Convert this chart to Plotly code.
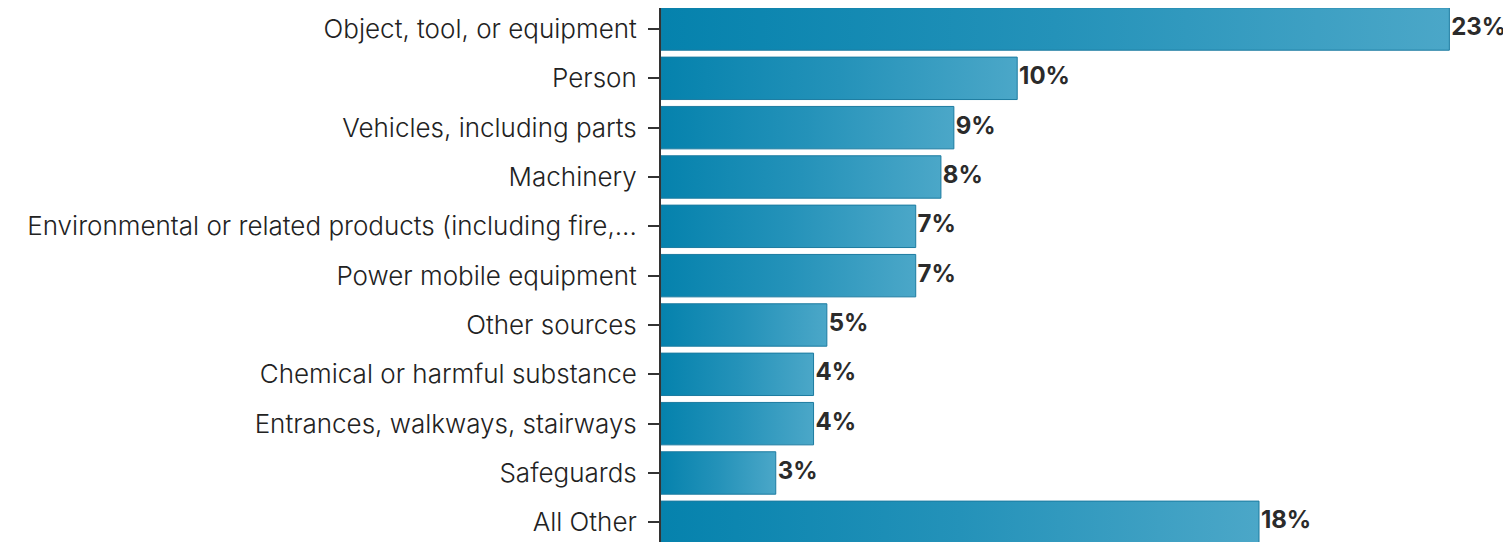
import plotly.graph_objects as go

categories = [
    "Object, tool, or equipment",
    "Person",
    "Vehicles, including parts",
    "Machinery",
    "Environmental or related products (including fire,...",
    "Power mobile equipment",
    "Other sources",
    "Chemical or harmful substance",
    "Entrances, walkways, stairways",
    "Safeguards",
    "All Other",
]
values = [23.15, 10.46, 8.6, 8.22, 7.48, 7.48, 4.87, 4.48, 4.48, 3.37, 17.56]
labels = ["23%", "10%", "9%", "8%", "7%", "7%", "5%", "4%", "4%", "3%", "18%"]

BAR_HALF = 0.43
GRAD = [[0, "#0582ad"], [0.5, "#2492b9"], [1, "#4ba7c8"]]
FONT = "Inter"

fig = go.Figure()
for i, v in enumerate(values):
    fig.add_trace(go.Scatter(
        x=[0, v, v, 0, 0],
        y=[i - BAR_HALF, i - BAR_HALF, i + BAR_HALF, i + BAR_HALF, i - BAR_HALF],
        mode="lines",
        fill="toself",
        fillgradient=dict(type="horizontal", colorscale=GRAD),
        line=dict(color="#1c7ba0", width=1),
        hoverinfo="skip",
        showlegend=False,
    ))

fig.add_trace(go.Scatter(
    x=values,
    y=list(range(len(values))),
    mode="text",
    text=["\u200a" + t for t in labels],
    textposition="middle right",
    textfont=dict(family=FONT, size=24, color="#2b2b2b", weight="bold"),
    cliponaxis=False,
    showlegend=False,
    hoverinfo="skip",
))

fig.update_layout(
    width=1503,
    height=534,
    margin=dict(l=653, r=0, t=0, b=0),
    paper_bgcolor="white",
    plot_bgcolor="white",
    font=dict(family=FONT, size=26, color="#222222"),
)
fig.update_xaxes(range=[0, 24.96], visible=False, fixedrange=True)
fig.update_yaxes(
    range=[10.399, -0.4256],
    tickmode="array",
    tickvals=list(range(len(categories))),
    ticktext=categories,
    showgrid=False,
    zeroline=False,
    showline=True,
    linecolor="#333333",
    linewidth=2,
    ticks="outside",
    ticklen=11,
    tickwidth=1.5,
    tickcolor="#333333",
    tickfont=dict(family=FONT, size=26, color="#222222", weight=300),
    ticklabelstandoff=6,
    fixedrange=True,
)

fig.write_html("out.html")
